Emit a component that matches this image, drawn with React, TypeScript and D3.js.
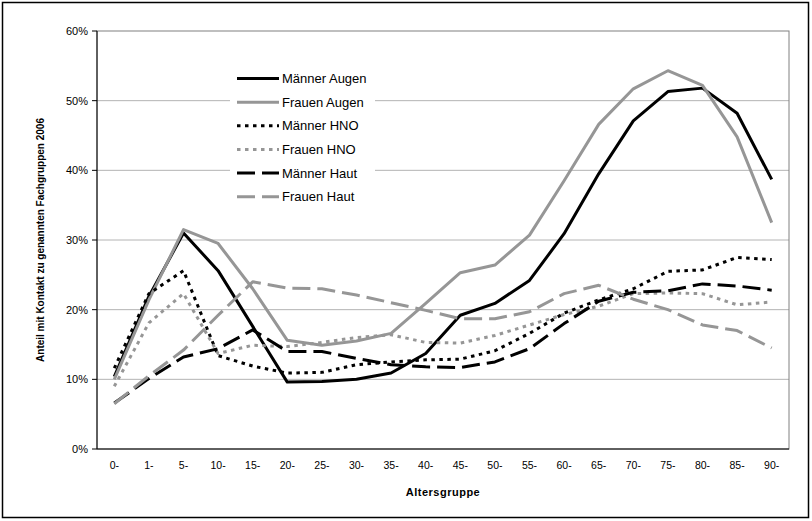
import React from "react";
import * as d3 from "d3";

const categories = ["0-","1-","5-","10-","15-","20-","25-","30-","35-","40-","45-","50-","55-","60-","65-","70-","75-","80-","85-","90-"];
const maennerAugen = [10.4,21.9,31.0,25.6,17.6,9.6,9.7,10.0,10.9,13.7,19.2,20.9,24.2,30.9,39.5,47.1,51.3,51.8,48.2,38.7];
const frauenAugen = [10.0,21.4,31.5,29.5,23.0,15.6,14.9,15.5,16.6,20.9,25.3,26.4,30.7,38.5,46.6,51.7,54.3,52.2,44.8,32.5];
const maennerHNO = [11.6,22.3,25.6,13.4,11.9,10.9,11.0,12.1,12.5,12.8,12.9,14.1,16.6,19.5,21.4,23.0,25.5,25.7,27.5,27.2];
const frauenHNO = [9.0,18.1,22.3,13.7,14.9,14.7,15.3,16.0,16.4,15.3,15.2,16.3,17.8,19.3,20.5,22.3,22.4,22.3,20.7,21.1];
const maennerHaut = [6.6,10.1,13.2,14.4,17.1,14.0,14.0,13.0,12.1,11.8,11.7,12.5,14.4,18.0,21.2,22.5,22.7,23.7,23.4,22.8];
const frauenHaut = [6.5,10.5,14.2,19.2,24.0,23.1,23.0,22.1,21.0,19.9,18.7,18.7,19.7,22.3,23.5,21.5,20.0,17.8,17.0,14.5];
const yTicks = [0,10,20,30,40,50,60];

const GRAY = "#969696";
const series = [
  { name: "Männer Augen", values: maennerAugen, color: "#000", dash: "none" },
  { name: "Frauen Augen", values: frauenAugen, color: GRAY, dash: "none" },
  { name: "Männer HNO", values: maennerHNO, color: "#000", dash: "3.5 4.5" },
  { name: "Frauen HNO", values: frauenHNO, color: GRAY, dash: "3.5 4.5" },
  { name: "Männer Haut", values: maennerHaut, color: "#000", dash: "18 7" },
  { name: "Frauen Haut", values: frauenHaut, color: GRAY, dash: "18 7" },
];

const W = 812, H = 521;
const L = 97, R = 789, T = 31, B = 449;
const FONT = "'Liberation Sans', Arial, sans-serif";

export default function App() {
  const x = d3.scalePoint<string>().domain(categories).range([L, R]).padding(0.5);
  const y = d3.scaleLinear().domain([0, 60]).range([B, T]);
  const line = d3.line<number>().x((_, i) => x(categories[i]) as number).y((v) => y(v));

  const legX = 237, legY0 = 78.5, legDy = 23.65;

  return (
    <svg width={W} height={H} style={{ position: "absolute", left: 0, top: 0, background: "#fff" }} fontFamily={FONT}>
      <rect x={0} y={0} width={W} height={H} fill="#fff" />
      <rect x={2.5} y={2.5} width={806} height={515} fill="none" stroke="#000" strokeWidth={1.5} />
      {yTicks.filter((t) => t > 0 && t < 60).map((t) => (
        <line key={t} x1={L} x2={R} y1={y(t)} y2={y(t)} stroke="#b4b4b4" strokeWidth={1} />
      ))}
      <rect x={L} y={T} width={R - L} height={B - T} fill="none" stroke="#808080" strokeWidth={1} />
      <line x1={L} x2={L} y1={T} y2={B} stroke="#000" strokeWidth={1} />
      <line x1={L} x2={R} y1={B} y2={B} stroke="#000" strokeWidth={1} />
      {yTicks.map((t) => (
        <g key={t}>
          <line x1={L - 5} x2={L} y1={y(t)} y2={y(t)} stroke="#000" />
          <text x={L - 9} y={y(t)} dy="0.35em" textAnchor="end" fontSize={11}>{t}%</text>
        </g>
      ))}
      {categories.map((c) => (
        <text key={c} x={x(c) as number} y={469} textAnchor="middle" fontSize={10.5}>{c}</text>
      ))}
      <text x={(L + R) / 2} y={496} textAnchor="middle" fontSize={11} fontWeight="bold" letterSpacing={0.5}>Altersgruppe</text>
      <text transform={`translate(44,240) rotate(-90)`} textAnchor="middle" fontSize={10} fontWeight="bold">Anteil mit Kontakt zu genannten Fachgruppen 2006</text>
      <rect x={230} y={64} width={145} height={146} fill="#fff" />
      {series.map((s, k) => (
        <g key={s.name}>
          <line x1={legX} x2={legX + 42} y1={legY0 + k * legDy} y2={legY0 + k * legDy} stroke={s.color} strokeWidth={3} strokeDasharray={s.dash} />
          <text x={legX + 45} y={legY0 + k * legDy} dy="0.35em" fontSize={13}>{s.name}</text>
        </g>
      ))}
      {series.map((s) => (
        <path key={s.name} d={line(s.values) as string} fill="none" stroke={s.color} strokeWidth={3} strokeDasharray={s.dash} strokeLinejoin="round" />
      ))}
    </svg>
  );
}
